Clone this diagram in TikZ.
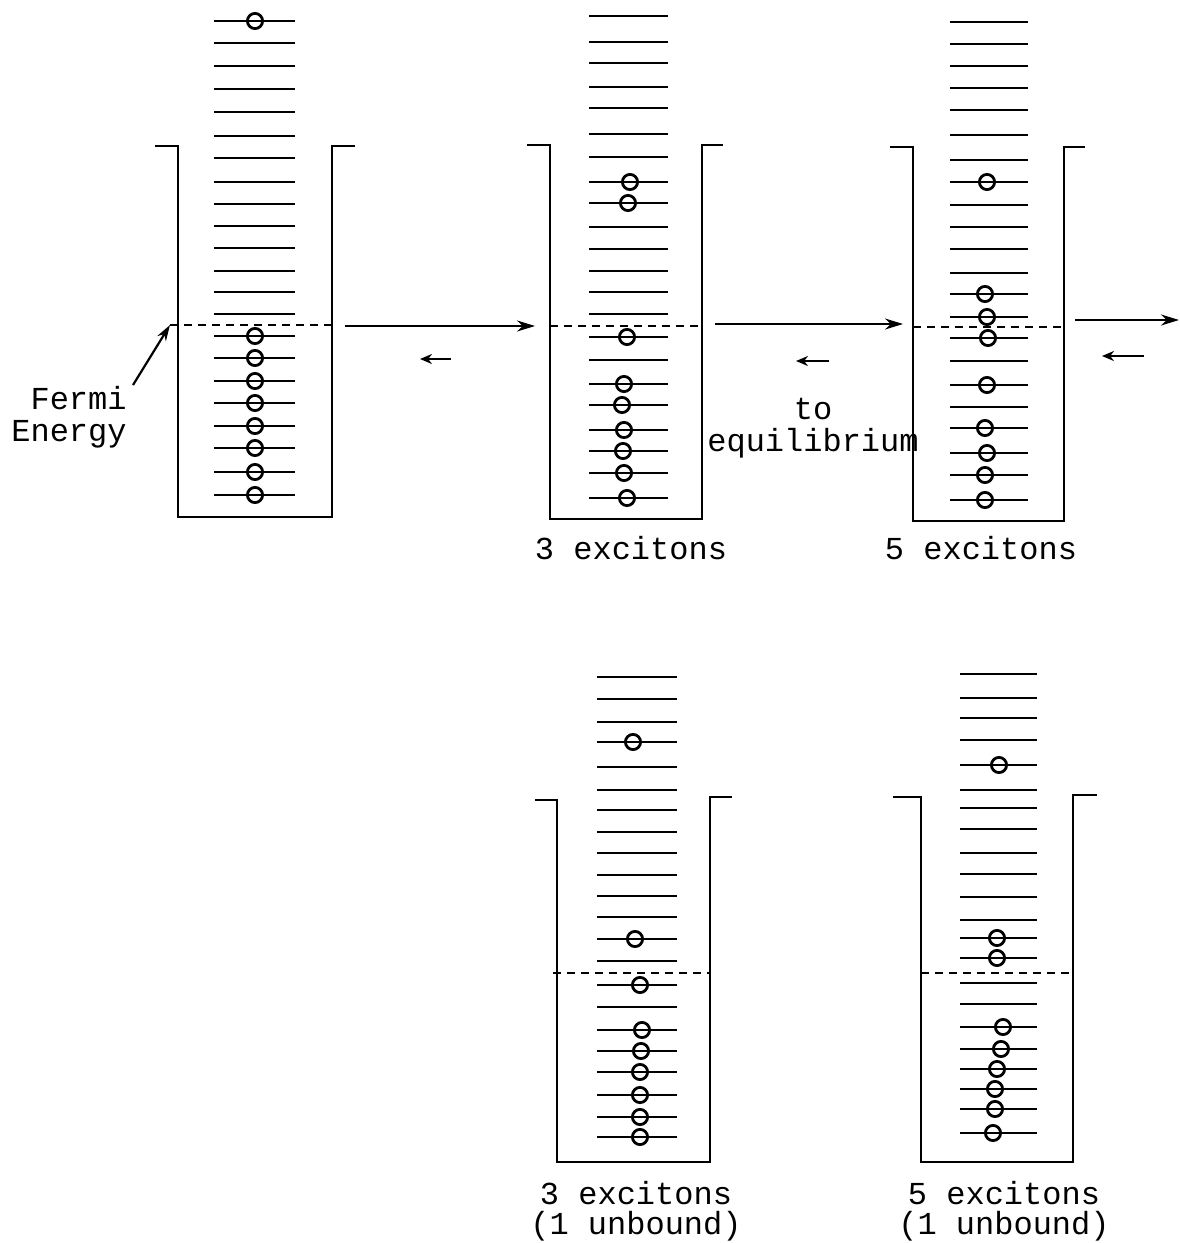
\documentclass[tikz,border=0pt]{standalone}
\usepackage{fontspec}
\setmonofont{Liberation Mono}
\usetikzlibrary{arrows.meta}
\begin{document}
\begin{tikzpicture}[x=0.5pt,y=-0.5pt,
  level/.style={line width=1.25pt},
  wall/.style={line width=1.3pt},
  elec/.style={line width=1.4pt},
  fermiline/.style={line width=1pt,dash pattern=on 4pt off 3pt},
  arr/.style={line width=1.1pt,-{Stealth[length=9pt,width=5.5pt]}},
  sarr/.style={line width=1.1pt,-{Stealth[length=6pt,width=5pt]}},
  lbl/.style={font=\ttfamily\fontsize{16}{16}\selectfont,inner sep=0pt,align=center}]
\useasboundingbox (0,0) rectangle (1179,1243);

% ---------------- Well 1 ----------------
\draw[wall] (155,146) -- (178,146) -- (178,517) -- (332,517) -- (332,146) -- (355,146);
\foreach \y in {21,43,66,89,112,136,158,182,204,226,248,271,292,314,336,358,381,403,426,448,472,495}
  \draw[level] (214,\y) -- (295,\y);
\foreach \y in {21,336,358,381,403,426,448,472,495}
  \draw[elec] (255,\y) circle[radius=3.8pt];
\coordinate (f1l) at (170,325);
\coordinate (f1r) at (332,325);
\draw[fermiline] (f1l) -- (f1r);

% ---------------- Well 2 ----------------
\draw[wall] (527,145) -- (550,145) -- (550,519) -- (702,519) -- (702,145) -- (723,145);
\foreach \y in {16,42,63,87,108,134,157,182,203,227,249,271,292,314,337,360,384,405,430,451,473,498}
  \draw[level] (589,\y) -- (668,\y);
\foreach \x/\y in {630/182,628/203,627/337,624/384,622/405,624/430,623/451,624/473,627/498}
  \draw[elec] (\x,\y) circle[radius=3.8pt];
\coordinate (f2l) at (550,326);
\coordinate (f2r) at (702,326);
\draw[fermiline] (f2l) -- (f2r);

% ---------------- Well 3 ----------------
\draw[wall] (890,147) -- (913,147) -- (913,521) -- (1064,521) -- (1064,147) -- (1085,147);
\foreach \y in {22,44,66,88,110,135,160,182,205,227,249,273,294,317,338,361,385,407,428,453,475,500}
  \draw[level] (950,\y) -- (1028,\y);
\foreach \x/\y in {987/182,985/294,987/317,988/338,987/385,985/428,987/453,985/475,985/500}
  \draw[elec] (\x,\y) circle[radius=3.8pt];
\coordinate (f3l) at (913,327);
\coordinate (f3r) at (1064,327);
\draw[fermiline] (f3l) -- (f3r);

% ---------------- Well 4 ----------------
\draw[wall] (535,800) -- (557,800) -- (557,1162) -- (710,1162) -- (710,797) -- (732,797);
\foreach \y in {677,699,722,742,767,790,810,832,853,875,896,917,939,961,985,1007,1030,1051,1072,1095,1117,1137}
  \draw[level] (597,\y) -- (677,\y);
\foreach \x/\y in {633/742,635/939,640/985,642/1030,641/1051,640/1072,640/1095,640/1117,640/1137}
  \draw[elec] (\x,\y) circle[radius=3.8pt];
\coordinate (f4l) at (553,973);
\coordinate (f4r) at (710,973);
\draw[fermiline] (f4l) -- (f4r);

% ---------------- Well 5 ----------------
\draw[wall] (893,797) -- (921,797) -- (921,1162) -- (1073,1162) -- (1073,795) -- (1097,795);
\foreach \y in {674,698,718,740,765,790,808,829,853,874,897,920,938,958,983,1004,1027,1049,1069,1089,1109,1133}
  \draw[level] (960,\y) -- (1037,\y);
\foreach \x/\y in {999/765,997/938,997/958,1003/1027,1001/1049,997/1069,995/1089,995/1109,993/1133}
  \draw[elec] (\x,\y) circle[radius=3.8pt];
\coordinate (f5l) at (921,973);
\coordinate (f5r) at (1073,973);
\draw[fermiline] (f5l) -- (f5r);

% ---------------- Arrows ----------------
\coordinate (a1s) at (345,326);
\coordinate (a1e) at (535,326);
\draw[arr] (a1s) -- (a1e);
\coordinate (b1s) at (451,359);
\coordinate (b1e) at (420,359);
\draw[sarr] (b1s) -- (b1e);

\coordinate (a2s) at (715,324);
\coordinate (a2e) at (903,324);
\draw[arr] (a2s) -- (a2e);
\coordinate (b2s) at (829,361);
\coordinate (b2e) at (796,361);
\draw[sarr] (b2s) -- (b2e);

\coordinate (a3s) at (1075,320);
\coordinate (a3e) at (1179,320);
\draw[arr] (a3s) -- (a3e);
\coordinate (b3s) at (1144,356);
\coordinate (b3e) at (1102,356);
\draw[sarr] (b3s) -- (b3e);

% ---------------- Labels ----------------
\node[lbl,align=right,anchor=north east] (fermi) at (127,386) {Fermi\\Energy};
\coordinate (fs) at (133,385);
\draw[line width=1.1pt,-{Stealth[length=8pt,width=5pt]}] (fs) -- (f1l);

\node[lbl] (toeq) at (813,428) {to\\equilibrium};
\node[lbl] (ex2) at (631,548) {3 excitons};
\node[lbl] (ex3) at (981,548) {5 excitons};
\node[lbl] (ex4) at (636,1211) {3 excitons\\[-1pt](1 unbound)};
\node[lbl] (ex5) at (1004,1211) {5 excitons\\[-1pt](1 unbound)};
\end{tikzpicture}
\end{document}
